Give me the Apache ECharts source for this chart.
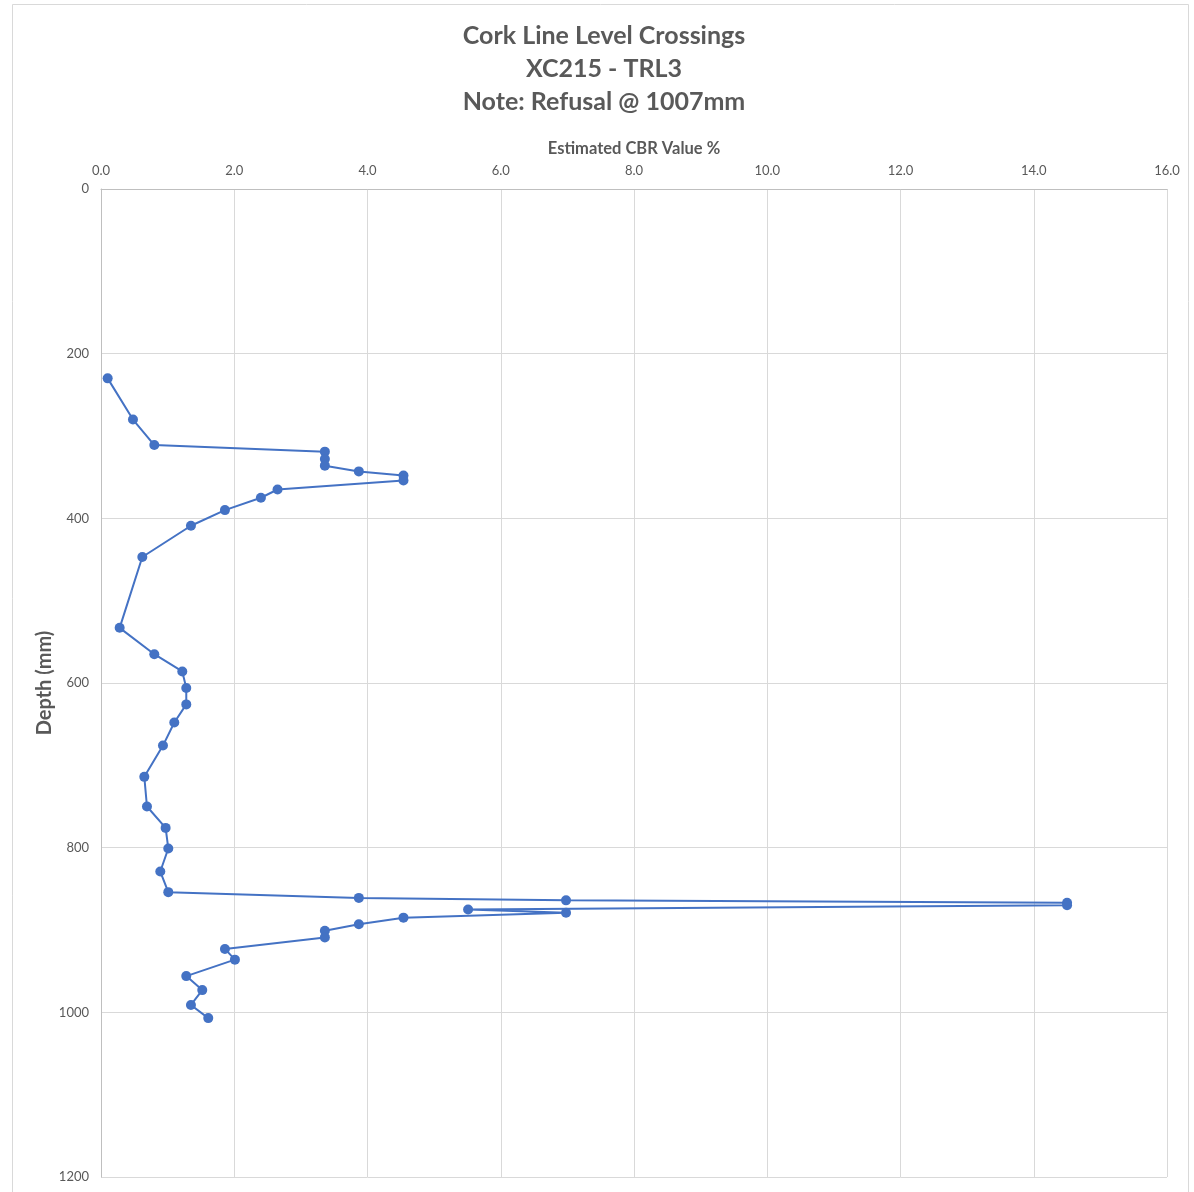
<!DOCTYPE html>
<html>
<head>
<meta charset="utf-8">
<script src="https://cdn.jsdelivr.net/npm/echarts@6/dist/echarts.min.js"></script>
<style>
html,body{margin:0;padding:0;background:#fff;}
#chart{width:1194px;height:1192px;}
</style>
</head>
<body>
<div id="chart"></div>
<script>
const titleLines = ["Cork Line Level Crossings", "XC215 - TRL3", "Note: Refusal @ 1007mm"];
const xAxisName = "Estimated CBR Value %";
const yAxisName = "Depth (mm)";
const depthMm = [230, 280, 311, 319, 328, 336, 343, 348, 354, 365, 375, 390, 409, 447, 533, 565, 586, 606, 626, 648, 676, 714, 750, 776, 801, 829, 854, 861, 864, 867, 870, 875, 879, 885, 893, 901, 909, 923, 936, 956, 973, 991, 1007];
const cbrValue = [0.1, 0.48, 0.8, 3.36, 3.36, 3.36, 3.87, 4.54, 4.54, 2.65, 2.4, 1.86, 1.35, 0.62, 0.28, 0.8, 1.22, 1.28, 1.28, 1.1, 0.93, 0.65, 0.69, 0.97, 1.01, 0.89, 1.01, 3.87, 6.98, 14.5, 14.5, 5.51, 6.98, 4.54, 3.87, 3.36, 3.36, 1.86, 2.01, 1.28, 1.52, 1.35, 1.61];

const points = cbrValue.map((v, i) => [v, depthMm[i]]);
const chart = echarts.init(document.getElementById('chart'), null, {renderer: 'canvas'});
const FONT = 'Lato, "Open Sans", sans-serif';
chart.setOption({
  animation: false,
  backgroundColor: '#ffffff',
  graphic: [{
    type: 'rect', shape: {x: 12.5, y: 4.5, width: 1176, height: 1200},
    style: {fill: 'none', stroke: '#d9d9d9', lineWidth: 1}, silent: true, z: -1
  }, {
    type: 'text', x: 45, y: 683, rotation: Math.PI / 2,
    style: {text: yAxisName, fontFamily: FONT, fontWeight: 'bold', fontSize: 20, fill: '#595959', align: 'center', verticalAlign: 'middle'},
    silent: true
  }],
  title: {
    text: titleLines.join('\n'),
    left: 599, textAlign: 'center', top: 14,
    textStyle: {fontFamily: FONT, fontWeight: 'bold', fontSize: 25, color: '#595959', lineHeight: 33}
  },
  grid: {left: 101, top: 189, right: 27, bottom: 15, containLabel: false},
  xAxis: {
    type: 'value', position: 'top', min: 0, max: 16, interval: 2,
    name: xAxisName, nameLocation: 'middle', nameGap: 38,
    nameTextStyle: {fontFamily: FONT, fontWeight: 'bold', fontSize: 16.5, color: '#595959', verticalAlign: 'middle', lineHeight: 20},
    axisLine: {show: true, lineStyle: {color: '#bfbfbf', width: 1}},
    axisTick: {show: false},
    axisLabel: {fontFamily: FONT, fontSize: 13, color: '#595959', margin: 12, formatter: v => v.toFixed(1)},
    splitLine: {show: true, lineStyle: {color: '#d9d9d9', width: 1}}
  },
  yAxis: {
    type: 'value', inverse: true, min: 0, max: 1200, interval: 200,
    axisLine: {show: true, lineStyle: {color: '#bfbfbf', width: 1}},
    axisTick: {show: false},
    axisLabel: {fontFamily: FONT, fontSize: 13, color: '#595959', margin: 12, formatter: v => String(v)},
    splitLine: {show: true, lineStyle: {color: '#d9d9d9', width: 1}}
  },
  series: [{
    type: 'line',
    data: points,
    symbol: 'circle', symbolSize: 10,
    lineStyle: {color: '#4472C4', width: 2},
    itemStyle: {color: '#4472C4'},
    clip: false
  }]
});
</script>
</body>
</html>
